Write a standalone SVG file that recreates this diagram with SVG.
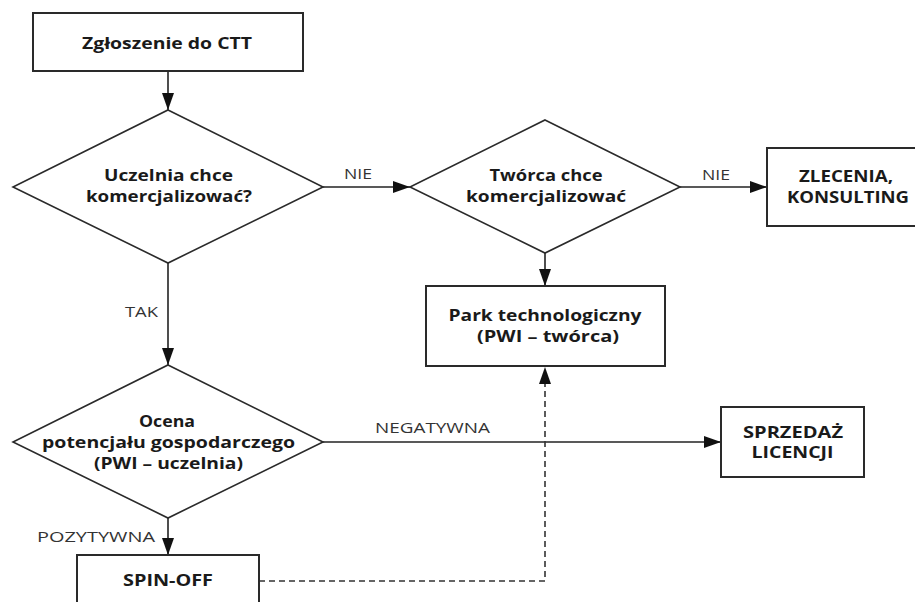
<svg xmlns="http://www.w3.org/2000/svg" width="915" height="602" viewBox="0 0 915 602">
  <style>
    .box { fill: #ffffff; stroke: #2a2a2a; stroke-width: 2; }
    .dia { fill: #ffffff; stroke: #2a2a2a; stroke-width: 1.6; }
    .t { font-family: "Open Sans", "Liberation Sans", sans-serif; font-weight: 700; font-size: 16px; fill: #1a1a1a; text-anchor: middle; }
    .lbl { font-family: "Open Sans", "Liberation Sans", sans-serif; font-weight: 400; font-size: 14.5px; fill: #333333; }
    .ln { fill: none; stroke: #222222; stroke-width: 1.6; }
    .dash { fill: none; stroke: #333333; stroke-width: 1.6; stroke-dasharray: 6 4; }
  </style>
  <defs>
    <marker id="arr" markerUnits="userSpaceOnUse" markerWidth="17" markerHeight="12" refX="17" refY="6" orient="auto">
      <path d="M0,0 L17,6 L0,12 Z" fill="#111111"/>
    </marker>
  </defs>
  <rect width="915" height="602" fill="#ffffff"/>

  <g id="connectors">
    <line class="ln" x1="168" y1="71" x2="168" y2="110" marker-end="url(#arr)"/>
    <line class="ln" x1="323" y1="187" x2="410" y2="187" marker-end="url(#arr)"/>
    <line class="ln" x1="680" y1="187" x2="767" y2="187" marker-end="url(#arr)"/>
    <line class="ln" x1="545" y1="253" x2="545" y2="286" marker-end="url(#arr)"/>
    <line class="ln" x1="168" y1="263" x2="168" y2="365" marker-end="url(#arr)"/>
    <line class="ln" x1="323" y1="442" x2="721" y2="442" marker-end="url(#arr)"/>
    <line class="ln" x1="168" y1="518" x2="168" y2="555" marker-end="url(#arr)"/>
    <polyline class="dash" points="259,581 545,581 545,367" marker-end="url(#arr)"/>
    <text class="lbl" x="358" y="179" text-anchor="middle" textLength="28" lengthAdjust="spacingAndGlyphs">NIE</text>
    <text class="lbl" x="716" y="180" text-anchor="middle" textLength="28" lengthAdjust="spacingAndGlyphs">NIE</text>
    <text class="lbl" x="125" y="317" textLength="33" lengthAdjust="spacingAndGlyphs">TAK</text>
    <text class="lbl" x="375" y="433" textLength="115" lengthAdjust="spacingAndGlyphs">NEGATYWNA</text>
    <text class="lbl" x="37" y="542" textLength="118" lengthAdjust="spacingAndGlyphs">POZYTYWNA</text>
  </g>

  <g id="zgloszenie">
    <rect class="box" x="33" y="13" width="270" height="58"/>
    <text class="t" x="167" y="48.5" textLength="170" lengthAdjust="spacingAndGlyphs">Zgłoszenie do CTT</text>
  </g>

  <g id="uczelnia">
    <polygon class="dia" points="168,110 323,187 168,263 13,187"/>
    <text class="t" x="168.5" y="181" textLength="129" lengthAdjust="spacingAndGlyphs">Uczelnia chce</text>
    <text class="t" x="169" y="202" textLength="166" lengthAdjust="spacingAndGlyphs">komercjalizować?</text>
  </g>

  <g id="tworca">
    <polygon class="dia" points="545,120 680,187 545,253 410,187"/>
    <text class="t" x="546" y="181" textLength="113" lengthAdjust="spacingAndGlyphs">Twórca chce</text>
    <text class="t" x="546" y="202" textLength="160" lengthAdjust="spacingAndGlyphs">komercjalizować</text>
  </g>

  <g id="zlecenia">
    <rect class="box" x="767" y="148" width="162" height="78"/>
    <text class="t" x="846" y="182" textLength="94" lengthAdjust="spacingAndGlyphs">ZLECENIA,</text>
    <text class="t" x="848" y="203" textLength="122" lengthAdjust="spacingAndGlyphs">KONSULTING</text>
  </g>

  <g id="park">
    <rect class="box" x="426" y="286" width="239" height="80"/>
    <text class="t" x="545" y="320.5" textLength="193" lengthAdjust="spacingAndGlyphs">Park technologiczny</text>
    <text class="t" x="548" y="341.5" textLength="142" lengthAdjust="spacingAndGlyphs">(PWI – twórca)</text>
  </g>

  <g id="ocena">
    <polygon class="dia" points="168,365 323,442 168,518 13,442"/>
    <text class="t" x="167" y="427" textLength="56" lengthAdjust="spacingAndGlyphs">Ocena</text>
    <text class="t" x="168.5" y="448" textLength="253" lengthAdjust="spacingAndGlyphs">potencjału gospodarczego</text>
    <text class="t" x="168.5" y="469" textLength="149" lengthAdjust="spacingAndGlyphs">(PWI – uczelnia)</text>
  </g>

  <g id="sprzedaz">
    <rect class="box" x="721" y="407" width="143" height="70"/>
    <text class="t" x="793" y="437.5" textLength="100" lengthAdjust="spacingAndGlyphs">SPRZEDAŻ</text>
    <text class="t" x="792.5" y="457.5" textLength="82" lengthAdjust="spacingAndGlyphs">LICENCJI</text>
  </g>

  <g id="spinoff">
    <rect class="box" x="77" y="555" width="182" height="60"/>
    <text class="t" x="168" y="585.5" textLength="90" lengthAdjust="spacingAndGlyphs">SPIN-OFF</text>
  </g>
</svg>
